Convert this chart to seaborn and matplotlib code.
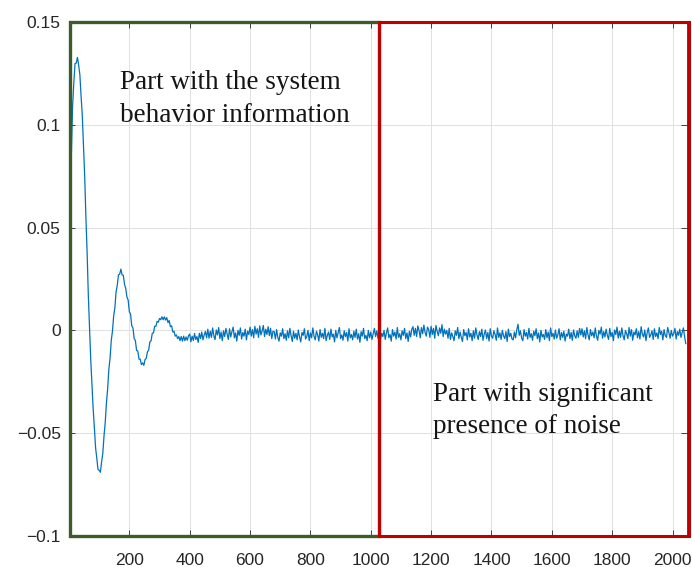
import numpy as np
import pandas as pd
import matplotlib
matplotlib.use("Agg")
import matplotlib.pyplot as plt
import seaborn as sns
from matplotlib.patches import Rectangle

# Impulse-response samples (units of 1e-4), one value every `sample_step` lags.
# Transient part: lags 0 .. 396
transient_e4 = [
    300, 620, 868, 1092, 1206, 1298, 1300, 1328, 1290, 1244,
    1140, 1046, 894, 750, 552, 380, 172, 8, -142, -256,
    -380, -470, -570, -620, -676, -680, -690, -640, -598, -514,
    -448, -354, -286, -190, -136, -50, -4, 70, 110, 186,
    220, 270, 274, 298, 270, 268, 224, 204, 162, 148,
    90, 80, 22, 12, -40, -50, -98, -100, -140, -140,
    -166, -158, -170, -142, -136, -104, -96, -56, -50, -14,
    -12, 20, 20, 44, 40, 58, 52, 66, 52, 66,
    50, 62, 38, 48, 18, 22, -8, -4, -28, -22,
    -40, -30, -50, -30, -52, -28, -50, -32, -48, -26,
]

# Steady, noise-dominated part: lags 400 .. 2044
steady_e4 = [
    -18, -55, -28, -49, -15, -44, -30, -58, -14, -40, -8, -46, -22, -5, -36,
    6, -38, -4, -34, 12, -26, -45, 2, -22, 14,
    -40, -8, -50, -2, -30, 10, -18, -44, 8, -32,
    -6, 16, -36, -12, -52, 0, -24, 12, -42, -10,
    -28, 6, -46, -4, -20,
    16, -28, 4, -36, 20, -18, 8, -34, 22, -22,
    -2, 24, -30, 6, -20, 18, -26, 10, -40, -4,
    -6, -42, 4, -34, -52, -12, -28, 8, -40, -16,
    -48, -2, -36, 10, -26, -54, -4, -38, -14, -46,
    2, -32, -56, -10, -24, 8, -42, -30, 0, -50,
    -12, -36, 12, -28, -46, -4, -22, -52, 4, -34,
    -14, -40, 10, -50, -24, -8, -44, 6, -32, -18,
    -56, 0, -36, -12, 14, -40, -22, -48, -2, -30,
    -10, -52, 8, -36, -20, -46, -4, -34, 6, -42,
    -16, -58, -6, -28, 10, -40, -24, -50, 0, -36,
    -8, -44, -18, 10, -30,
    -2, -38, 8, -48, -14, -30, 0, -44, -12, 12,
    -36, -20, -52, 4, -28, -8, -42, 14, -34, -16,
    -46, -2, -24, 10, -40, -12, -54, -4, -32, 6,
    18, -24, 10, -30, 22, 0, -36, 14, -16, 26,
    -10, -28, 16, 4, -34, 20, -20, 10, -38, 24,
    -4, -26, 12, -14, 28, -30, 6, -18,
    0, -38, 10, -44, -12, -30, -50, -2, -24, 14,
    -40, -8, -34, -54, 4, -26, -10, -46, 8, -32,
    -14, -50, -2, -38, 12, -22, -44, -6, -30, 6,
    -48, -18, 2, -40, -10, -52, 8, -28, -38, -2,
    -20, -48, 12, -34, -12, -44, 0, -26, -40, -6,
    -54, 6, -30, -14, -42, -46, -8, -36, 4, 30,
    -24, -2, -38, -50, 4, -28, -10, -42, 10, -34,
    -16, -48, -4, -26, 8, -40, -12, -56, 0, -32,
    -20, -44, 4, -36, -8, -50, 12, -30, -14, -42,
    2, -38, -22, 8, -46, -10, -34, -4, -52, -18,
    -28, 6, -40, -10, -48, 2, -26, -38, -2, -34,
    10, -22,
    8, -32, -2, -40, 14, -22, -46, 4, -26, -8,
    -36, 12, -28, -48, 0, -18, 16, -38, -6, -32,
    6, -24, -44, 10, -30, -10, -50, 2, -20, 16,
    -38, -4, -34, 12, -26, -46, 0, -16, -40, 14,
    -28, 4, -48, -8, -22, 8, -36, -6, -42, 18,
    -18, -32, 2, -50, -10, 12, -34, -22, -2, -44,
    8, -30, -12, -40, 14, -20, -4, -46, 4, -26,
    -34, 14, -10, -38, 0, -28, -16, 10, -42, -6,
    -24, 6, -34, -12, 12, -30, -65,
]
sample_step = 4

x_ticks = [200, 400, 600, 800, 1000, 1200, 1400, 1600, 1800, 2000]
y_ticks = [-0.1, -0.05, 0, 0.05, 0.1, 0.15]
y_tick_labels = ["\u22120.1", "\u22120.05", "0", "0.05", "0.1", "0.15"]

info_span = (3, 1028)
noise_span = (1028, 2054)
info_lines = ["Part with the system", "behavior information"]
noise_lines = ["Part with significant", "presence of noise"]

values = np.array(transient_e4 + steady_e4) * 1e-4
lag = np.arange(len(values)) * sample_step
df = pd.DataFrame({"lag": lag, "response": values})

sns.set_theme(style="white")
plt.rcParams["font.family"] = ["Liberation Sans", "DejaVu Sans"]

W, H = 692, 567
fig = plt.figure(figsize=(W / 100, H / 100), dpi=100)
ax = fig.add_axes([69 / W, 1 - 536 / H, (687 - 69) / W, (536 - 22) / H])

sns.lineplot(data=df, x="lag", y="response", color="#0072BD",
             linewidth=0.9, ax=ax, zorder=3)

ax.set_xlim(0, 2048)
ax.set_ylim(-0.1, 0.15)
ax.set_xticks(x_ticks)
ax.set_yticks(y_ticks)
ax.set_yticklabels(y_tick_labels)
ax.set_xlabel("")
ax.set_ylabel("")
ax.grid(True, color="#e0e0e0", linewidth=0.7)
ax.set_axisbelow(True)
ax.tick_params(direction="in", length=4.5, width=0.6, color="#262626",
               labelsize=12.5, labelcolor="#262626",
               top=True, right=True, bottom=True, left=True)
ax.tick_params(axis="x", pad=12)
ax.tick_params(axis="y", pad=6)
for s in ax.spines.values():
    s.set_color("#262626")
    s.set_linewidth(0.6)

# Region boxes
ax.add_patch(Rectangle((info_span[0], -0.1), info_span[1] - info_span[0], 0.25,
                       fill=False, edgecolor="#3E5B2A", linewidth=2.4,
                       clip_on=False, zorder=5))
ax.add_patch(Rectangle((noise_span[0], -0.1), noise_span[1] - noise_span[0], 0.25,
                       fill=False, edgecolor="#C00000", linewidth=2.2,
                       clip_on=False, zorder=6))

# Annotations, one baseline per line
serif = ["Liberation Serif", "DejaVu Serif"]
line_gap = 0.0156
for lines, x0, y0 in [(info_lines, 169, 0.1172), (noise_lines, 1205, -0.0341)]:
    for i, line in enumerate(lines):
        ax.text(x0, y0 - i * line_gap, line, family=serif, fontsize=19.5,
                color="#151515", va="baseline", ha="left", zorder=7)

fig.savefig("out.png", dpi=100)
